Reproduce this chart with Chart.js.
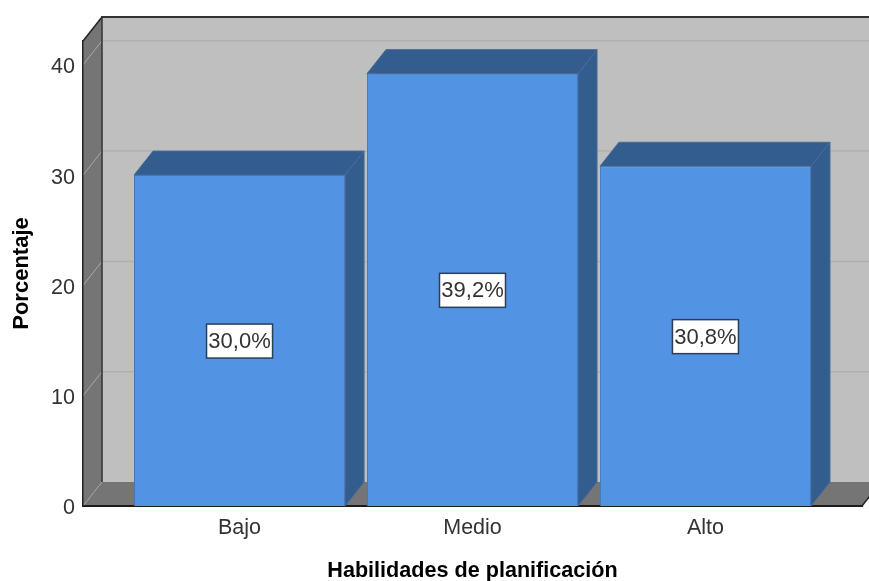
<!DOCTYPE html>
<html>
<head>
<meta charset="utf-8">
<title>Habilidades de planificación</title>
<script src="https://cdn.jsdelivr.net/npm/chart.js@4"></script>
<style>
    body { margin: 0; background: #fff; }
    canvas { display: block; }
</style>
</head>
<body>
<canvas id="barChart" width="869" height="581"></canvas>
<script>
const categories = ['Bajo', 'Medio', 'Alto'];
const percentages = [30.0, 39.2, 30.8];
const percentLabels = ['30,0%', '39,2%', '30,8%'];
const yTicks = [0, 10, 20, 30, 40];

// depth of the fake 3D box, in pixels
const depthX = 19;
const depthY = -24;

function poly(ctx, points, fill, stroke) {
    ctx.beginPath();
    points.forEach((p, i) => i ? ctx.lineTo(p[0], p[1]) : ctx.moveTo(p[0], p[1]));
    ctx.closePath();
    ctx.fillStyle = fill;
    ctx.fill();
    if (stroke) {
        ctx.strokeStyle = stroke;
        ctx.lineWidth = 1;
        ctx.stroke();
    }
}

function line(ctx, x1, y1, x2, y2, color, width) {
    ctx.beginPath();
    ctx.moveTo(x1, y1);
    ctx.lineTo(x2, y2);
    ctx.strokeStyle = color;
    ctx.lineWidth = width;
    ctx.stroke();
}

// walls, floor and gridlines of the box
const boxPlugin = {
    id: 'box',
    beforeDraw(chart) {
        const { ctx, chartArea: a, scales } = chart;
        const bx = a.left + depthX;
        const rx = a.right + depthX;
        const ty = a.top + depthY;
        const by = a.bottom + depthY;
        ctx.save();
        poly(ctx, [[bx, ty], [rx, ty], [rx, by], [bx, by]], '#bfbfbf');
        poly(ctx, [[a.left, a.top], [bx, ty], [bx, by], [a.left, a.bottom]], '#757575');
        poly(ctx, [[a.left, a.bottom], [bx, by], [rx, by], [a.right, a.bottom]], '#757575');
        yTicks.slice(1).forEach(t => {
            const y = scales.y.getPixelForValue(t);
            line(ctx, a.left, y, bx, y + depthY, '#a9a9a9', 1);
            line(ctx, bx, y + depthY, rx, y + depthY, '#b0b0b0', 1.5);
        });
        line(ctx, a.left, a.bottom, bx, by, '#a0a0a0', 1);
        line(ctx, a.left, a.top, bx, ty, '#222', 1.5);
        line(ctx, bx - 1, ty, rx, ty, '#333', 2);
        line(ctx, bx, ty, bx, by, '#333', 1.5);
        line(ctx, a.right, a.bottom, rx, by, '#222', 1.5);
        ctx.restore();
    },
    // top and side faces of each bar
    beforeDatasetsDraw(chart) {
        const { ctx } = chart;
        ctx.save();
        chart.getDatasetMeta(0).data.forEach(bar => {
            const l = bar.x - bar.width / 2;
            const r = bar.x + bar.width / 2;
            poly(ctx, [[l, bar.y], [l + depthX, bar.y + depthY], [r + depthX, bar.y + depthY], [r, bar.y]], '#335c8f', '#4a6a92');
            poly(ctx, [[r, bar.y], [r + depthX, bar.y + depthY], [r + depthX, bar.base + depthY], [r, bar.base]], '#335c8f', '#4a6a92');
        });
        ctx.restore();
    },
    // boxed value labels in the middle of the bars
    afterDatasetsDraw(chart) {
        const { ctx } = chart;
        ctx.save();
        ctx.font = '22px "Liberation Sans"';
        ctx.textAlign = 'center';
        ctx.textBaseline = 'middle';
        chart.getDatasetMeta(0).data.forEach((bar, i) => {
            const cy = (bar.y + bar.base) / 2 + 0.5;
            ctx.fillStyle = '#fff';
            ctx.fillRect(bar.x - 33, cy - 17, 66, 34);
            ctx.strokeStyle = '#2b3f57';
            ctx.lineWidth = 1.5;
            ctx.strokeRect(bar.x - 33, cy - 17, 66, 34);
            ctx.fillStyle = '#333';
            ctx.fillText(percentLabels[i], bar.x, cy + 1);
        });
        ctx.restore();
    }
};

const ctxBar = document.getElementById('barChart').getContext('2d');
new Chart(ctxBar, {
    type: 'bar',
    data: {
        datasets: [{
            data: percentages.map((value, index) => ({ x: index, y: value })),
            backgroundColor: '#5293e4',
            borderColor: '#4578b8',
            borderWidth: 1,
            categoryPercentage: 1,
            barPercentage: 0.906
        }]
    },
    plugins: [boxPlugin],
    options: {
        responsive: false,
        animation: false,
        layout: {
            padding: { top: 41, right: 7, left: 0, bottom: 0 }
        },
        plugins: {
            legend: { display: false },
            tooltip: { enabled: false }
        },
        scales: {
            x: {
                type: 'linear',
                offset: false,
                bounds: 'data',
                min: -0.672,
                max: 2.672,
                afterBuildTicks: scale => {
                    scale.min = -0.672;
                    scale.max = 2.672;
                    scale.ticks = categories.map((label, index) => ({ value: index }));
                },
                afterFit: scale => {
                    scale.height = 75;
                },
                grid: { display: false, drawTicks: false, offset: false },
                border: { display: true, color: '#1c1c1c', width: 2 },
                ticks: {
                    autoSkip: false,
                    maxRotation: 0,
                    padding: 9,
                    color: '#333',
                    font: { family: '"Liberation Sans"', size: 21.5 },
                    callback: value => categories[value]
                },
                title: {
                    display: true,
                    text: 'Habilidades de planificación',
                    color: '#000',
                    font: { family: '"Liberation Sans"', size: 21.6, weight: 'bold' },
                    padding: { top: 0, bottom: -3 }
                }
            },
            y: {
                min: 0,
                max: 42.16,
                afterFit: scale => {
                    scale.width = 83;
                },
                grid: { display: false, drawTicks: false },
                border: { display: true, color: '#222', width: 1.5 },
                ticks: {
                    stepSize: 10,
                    includeBounds: false,
                    padding: 8,
                    labelOffset: 2.5,
                    color: '#333',
                    font: { family: '"Liberation Sans"', size: 21.5 }
                },
                title: {
                    display: true,
                    text: 'Porcentaje',
                    color: '#000',
                    font: { family: '"Liberation Sans"', size: 22, weight: 'bold' },
                    padding: { top: 9, bottom: 0 }
                }
            }
        }
    }
});
</script>
</body>
</html>
